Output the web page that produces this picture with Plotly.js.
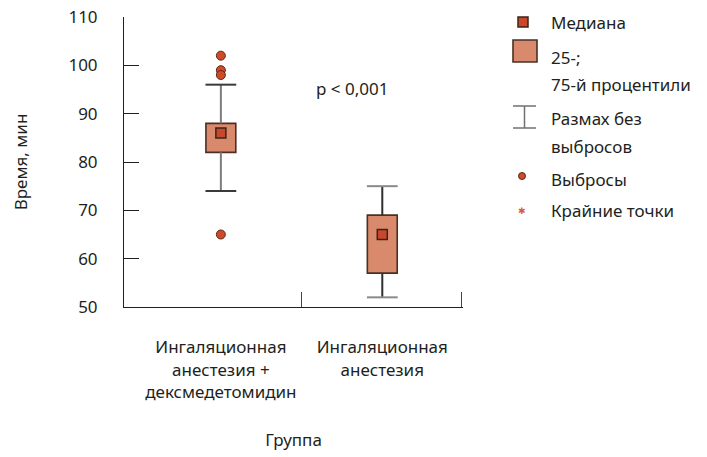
<!DOCTYPE html>
<html><head><meta charset="utf-8">
<script src="https://cdn.plot.ly/plotly-3.0.1.min.js"></script>
<style>html,body{margin:0;padding:0;background:#fff}#chart{width:707px;height:457px}</style>
</head><body><div id="chart"></div>
<script>
// ---- data ----
const categories = ['Ингаляционная анестезия + дексмедетомидин', 'Ингаляционная анестезия'];
const tickLabels = ['Ингаляционная<br>анестезия +<br>дексмедетомидин', 'Ингаляционная<br>анестезия'];
const q1 = [82, 57];
const median = [86, 65];
const q3 = [88, 69];
const lowerFence = [74, 52];
const upperFence = [96, 75];
const outlierGroup = [0, 0, 0, 0];
const outlierValues = [102, 99, 98, 65];
const yTicks = [50, 60, 70, 80, 90, 100, 110];
const pText = 'p < 0,001';
const legendLabels = ['Медиана', '25-;', '75-й процентили', 'Размах без', 'выбросов', 'Выбросы', 'Крайние точки'];

// ---- styles ----
const FONT = 'Noto Sans, Open Sans, sans-serif';
const TXT = '#231f20';
const BOX_FILL = '#da8a6c';
const BOX_LINE = '#4a3024';
const MED_FILL = '#c9472a';
const OUT_FILL = '#cf4a29';
const WHISK = '#707070';
const stemColors = ['#7c7c7c', '#2e2e2e'];
const capColors = ['#3a3a3a', '#8a8a8a'];

const traces = [
  { type: 'bar', x: categories, base: q1, y: q3.map((v, i) => v - q1[i]),
    width: 0.185, marker: { color: BOX_FILL, line: { color: BOX_LINE, width: 1.6 } },
    showlegend: false, hoverinfo: 'skip' }
];
categories.forEach((c, i) => {
  traces.push({ type: 'scatter', mode: 'lines',
    x: [c, c, null, c, c], y: [q3[i], upperFence[i], null, q1[i], lowerFence[i]],
    line: { color: stemColors[i], width: 2 }, showlegend: false, hoverinfo: 'skip' });
  traces.push({ type: 'scatter', mode: 'markers', x: [c, c], y: [upperFence[i], lowerFence[i]],
    marker: { symbol: 'line-ew', size: 22, line: { color: capColors[i], width: 2 } },
    showlegend: false, hoverinfo: 'skip' });
});
traces.push(
  { type: 'scatter', mode: 'markers', x: categories, y: median,
    marker: { symbol: 'square', size: 10, color: MED_FILL, line: { color: '#3a2418', width: 1.5 } },
    showlegend: false },
  { type: 'scatter', mode: 'markers', x: outlierGroup.map(g => categories[g]), y: outlierValues,
    marker: { symbol: 'circle', size: 9, color: OUT_FILL, line: { color: '#5a2a1a', width: 1 } },
    showlegend: false },
  // overlay axis only for boundary tick marks
  { type: 'scatter', x: [], y: [], xaxis: 'x2', showlegend: false, hoverinfo: 'skip' }
);

// plot area in pixels (for paper coordinates of the manual legend)
const PL = 124, PR = 463, PT = 17, PB = 307;
const px = x => (x - PL) / (PR - PL), py = y => (PB - y) / (PB - PT);

const LX = 549;
const legendY = [22, 57, 84, 118, 146, 179, 210];
const annotations = legendLabels.map((t, i) => ({
  xref: 'paper', yref: 'paper', x: px(LX), y: py(legendY[i]), xanchor: 'left', yanchor: 'middle',
  text: t, showarrow: false, font: { family: FONT, size: 17, color: TXT }
}));
annotations.push({ xref: 'paper', yref: 'paper', x: px(352), y: py(88), xanchor: 'center', yanchor: 'middle',
  text: pText, showarrow: false, font: { family: FONT, size: 17, color: TXT } });
annotations.push({ xref: 'paper', yref: 'paper', x: px(522), y: py(211), xanchor: 'center', yanchor: 'middle',
  text: '✱', showarrow: false, font: { family: 'DejaVu Sans', size: 9, color: '#e0583a' } });

const shapes = [
  { type: 'rect', xref: 'paper', yref: 'paper', x0: px(518), x1: px(528), y0: py(27), y1: py(17),
    fillcolor: MED_FILL, line: { color: '#3a2418', width: 1.5 } },
  { type: 'rect', xref: 'paper', yref: 'paper', x0: px(513), x1: px(537), y0: py(62), y1: py(40),
    fillcolor: BOX_FILL, line: { color: BOX_LINE, width: 1.6 } },
  { type: 'line', xref: 'paper', yref: 'paper', x0: px(513), x1: px(536), y0: py(106), y1: py(106), line: { color: WHISK, width: 1.5 } },
  { type: 'line', xref: 'paper', yref: 'paper', x0: px(513), x1: px(536), y0: py(128), y1: py(128), line: { color: WHISK, width: 1.5 } },
  { type: 'line', xref: 'paper', yref: 'paper', x0: px(524.5), x1: px(524.5), y0: py(106), y1: py(128), line: { color: WHISK, width: 1.5 } },
  { type: 'circle', xref: 'paper', yref: 'paper', x0: px(518.5), x1: px(525.5), y0: py(172.5), y1: py(179.5),
    fillcolor: OUT_FILL, line: { color: '#5a2a1a', width: 1 } }
];

const layout = {
  width: 707, height: 457,
  margin: { l: PL, r: 707 - PR, t: PT, b: 457 - PB },
  paper_bgcolor: '#fff', plot_bgcolor: '#fff',
  font: { family: FONT, size: 17, color: TXT },
  showlegend: false,
  xaxis: {
    type: 'category', range: [-0.6, 1.5], fixedrange: true,
    tickmode: 'array', tickvals: categories, ticktext: tickLabels,
    ticks: '', showline: true, linecolor: '#231f20', linewidth: 1,
    showgrid: false, zeroline: false, ticklabelstandoff: 25,
    tickfont: { family: FONT, size: 17, color: TXT },
    title: { text: 'Группа', standoff: 32, font: { family: FONT, size: 17, color: TXT } }
  },
  xaxis2: {
    overlaying: 'x', type: 'linear', range: [-0.6, 1.5], side: 'bottom',
    tickmode: 'array', tickvals: [0.5, 1.488], ticks: 'inside', ticklen: 15, tickwidth: 1,
    tickcolor: '#444', showticklabels: false, showgrid: false, zeroline: false, showline: false
  },
  yaxis: {
    range: [50, 110], tickmode: 'array', tickvals: yTicks,
    ticks: 'inside', ticklen: 15, tickwidth: 1, tickcolor: '#231f20',
    showline: true, linecolor: '#231f20', linewidth: 1, showgrid: false, zeroline: false,
    ticklabelstandoff: 22, tickfont: { family: FONT, size: 17, color: TXT },
    title: { text: 'Время, мин', standoff: 36, font: { family: FONT, size: 17, color: TXT } }
  },
  annotations, shapes
};

Plotly.newPlot('chart', traces, layout, { staticPlot: true });
</script></body></html>
